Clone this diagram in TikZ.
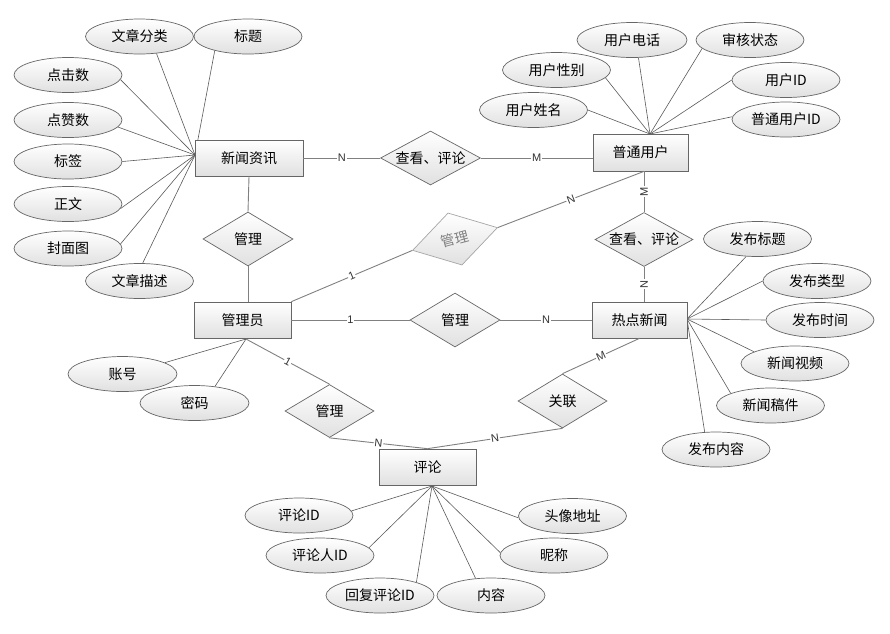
\documentclass[tikz,border=0pt]{standalone}
\usepackage{fontspec}
\newfontfamily\cjk{Noto Sans CJK SC}
\setsansfont{Liberation Sans}
\usetikzlibrary{shapes.geometric,calc}
\pgfdeclarelayer{background}
\pgfsetlayers{background,main}
\newcommand\dtext[1]{\makebox[0pt]{#1}}
\tikzset{
 shp/.style={draw=black!60, line width=0.7pt, top color=white, bottom color=black!12, inner sep=0pt},
 ent/.style={shp, rectangle, minimum width=97pt, minimum height=36pt},
 attr/.style={shp, ellipse, minimum width=108pt, minimum height=35pt},
 rel/.style={shp, diamond, minimum width=90pt, minimum height=54pt},
 relg/.style={rel, draw=black!35, text=black!50},
 aline/.style={draw=black!65, line width=0.6pt},
 rline/.style={draw=black!50, line width=0.9pt},
 card/.style={fill=white, inner sep=0.8pt, font=\sffamily\fontsize{11}{12}\selectfont, text=black!80},
}
\begin{document}
\begin{tikzpicture}[x=1pt,y=-1pt,font=\cjk\fontsize{14}{16}\selectfont]
\path[use as bounding box] (0,0) rectangle (890,633);
% entities
\node[ent,minimum width=108pt] (news) at (249,158) {新闻资讯};
\node[ent,minimum width=95pt,minimum height=37pt] (user) at (640.5,152.5) {普通用户};
\node[ent,minimum width=95pt] (hot) at (639.5,320) {热点新闻};
\node[ent] (admin) at (242.5,320) {管理员};
\node[ent] (cmt) at (427.5,467) {评论};
% relationships
\node[rel,minimum width=100pt] (r1) at (430.5,158) {\dtext{查看、评论}};
\node[rel] (r2) at (248,239) {\dtext{管理}};
\node[rel,minimum width=98pt] (r3) at (644,239.5) {\dtext{查看、评论}};
\node[relg,minimum width=88pt,rotate=15] (r4) at (455,239) {\dtext{管理}};
\node[rel] (r5) at (455,320) {\dtext{管理}};
\node[rel,minimum width=89pt,minimum height=53pt] (r6) at (329.5,411) {\dtext{管理}};
\node[rel,minimum width=89pt] (r7) at (562.5,401) {\dtext{关联}};
% attributes of 新闻资讯
\node[attr] (a1) at (139.5,36.5) {文章分类};
\node[attr] (a2) at (248,36.5) {标题};
\node[attr] (a3) at (68,75) {点击数};
\node[attr] (a4) at (68,120) {点赞数};
\node[attr] (a5) at (68,161.5) {标签};
\node[attr] (a6) at (68,204) {正文};
\node[attr] (a7) at (68,248.5) {封面图};
\node[attr] (a8) at (139.5,281) {文章描述};
% attributes of 普通用户
\node[attr,minimum width=110pt] (u1) at (632,40) {用户电话};
\node[attr] (u2) at (750,40) {审核状态};
\node[attr] (u3) at (556.5,70) {用户性别};
\node[attr] (u4) at (786,80) {用户ID};
\node[attr] (u5) at (533.5,110) {用户姓名};
\node[attr] (u6) at (786,119.5) {普通用户ID};
% attributes of 热点新闻
\node[attr] (h1) at (757.5,239) {发布标题};
\node[attr] (h2) at (817,281) {发布类型};
\node[attr] (h3) at (820,320) {发布时间};
\node[attr] (h4) at (795,363.5) {新闻视频};
\node[attr] (h5) at (770.5,405.5) {新闻稿件};
\node[attr] (h6) at (716,449.5) {发布内容};
% attributes of 管理员
\node[attr,minimum width=109pt] (m1) at (122.5,374) {账号};
\node[attr,minimum width=109pt] (m2) at (194.5,403) {密码};
% attributes of 评论
\node[attr] (c1) at (299,515.5) {评论ID};
\node[attr] (c2) at (320,555.5) {评论人ID};
\node[attr] (c3) at (380,595.5) {回复评论ID};
\node[attr] (c4) at (491,595.5) {内容};
\node[attr] (c5) at (554,555.5) {昵称};
\node[attr] (c6) at (572.5,516) {头像地址};
% convergence points
\coordinate (cn) at (195,155);
\coordinate (cu) at (650,134);
\coordinate (ch) at (687,319);
\coordinate (ca) at (246,339);
\coordinate (cc) at (432,486);
\begin{pgfonlayer}{background}
\draw[aline] (cn) -- (a1.315);
\draw[aline] (cn) -- (a2.203);
\draw[aline] (cn) -- (a3.355);
\draw[aline] (cn) -- (a4.352);
\draw[aline] (cn) -- (a5.0);
\draw[aline] (cn) -- (a6.355);
\draw[aline] (cn) -- (a7.5);
\draw[aline] (cn) -- (a8.80);
\draw[aline] (cu) -- (u1.290);
\draw[aline] (cu) -- (u2.190);
\draw[aline] (cu) -- (u3.351);
\draw[aline] (cu) -- (u4.180);
\draw[aline] (cu) -- (u5.0);
\draw[aline] (cu) -- (u6.177);
\draw[aline] (ch) -- (h1.237);
\draw[aline] (ch) -- (h2.180);
\draw[aline] (ch) -- (h3.180);
\draw[aline] (ch) -- (h4.164);
\draw[aline] (ch) -- (h5.163);
\draw[aline] (ch) -- (h6.123);
\draw[aline] (ca) -- (m1.15);
\draw[aline] (ca) -- (m2.39);
\draw[aline] (cc) -- (c1.5);
\draw[aline] (cc) -- (c2.9);
\draw[aline] (cc) -- (c3.20);
\draw[aline] (cc) -- (c4.132);
\draw[aline] (cc) -- (c5.177);
\draw[aline] (cc) -- (c6.182);
\end{pgfonlayer}
% relationship connectors
\draw[rline] (news.east) -- node[card]{N} (r1.west);
\draw[rline] (r1.east) -- node[card]{M} (r1.east -| user.west);
\draw[rline] (news.south) -- (r2.north);
\draw[rline] (r2.south) -- (r2.south |- admin.north);
\draw[rline] (admin.north east) -- node[card,sloped]{1} (r4.west);
\draw[rline] (r4.east) -- node[card,sloped]{N} (r3.north |- user.south);
\draw[rline] (r3.north |- user.south) -- node[card,rotate=90]{M} (r3.north);
\draw[rline] (r3.south) -- node[card,rotate=90]{N} (r3.south |- hot.north);
\draw[rline] (admin.east) -- node[card]{1} (r5.west);
\draw[rline] (r5.east) -- node[card]{N} (hot.west);
\draw[rline] (ca) -- node[card,sloped]{1} (r6.north);
\draw[rline] (r6.south) -- node[card,sloped]{N} (cmt.north);
\draw[rline] (hot.south) -- node[card,sloped]{M} (r7.north);
\draw[rline] (r7.south) -- node[card,sloped]{N} (cmt.north);
\end{tikzpicture}
\end{document}
